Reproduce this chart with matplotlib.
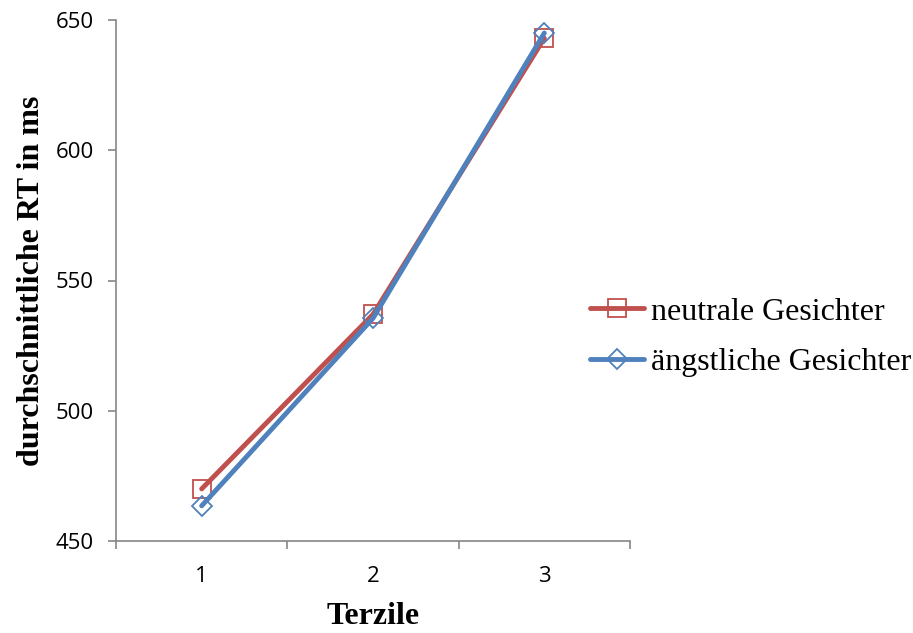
import matplotlib
matplotlib.use("Agg")
import matplotlib.pyplot as plt

# Daten
terzile = [1, 2, 3]
neutral = [470, 537, 643]
aengstlich = [463.5, 535.5, 645]

red = '#C0504D'
blue = '#4F81BD'
grey = '#868686'

fig = plt.figure(figsize=(9.13, 6.33), dpi=100)
ax = fig.add_axes([116/913, 1-541/633, (630-116)/913, (541-20)/633])

ax.plot(terzile, neutral, color=red, lw=3.5, marker='s', ms=13,
        mfc='none', mec=red, mew=1.3, label='neutrale Gesichter',
        solid_capstyle='round')
ax.plot(terzile, aengstlich, color=blue, lw=3.5, marker='D', ms=10.5,
        mfc='none', mec=blue, mew=1.3, label='ängstliche Gesichter',
        solid_capstyle='round')

ax.set_xlim(0.5, 3.5)
ax.set_ylim(450, 650)
ax.set_yticks([450, 500, 550, 600, 650])
ax.set_xticks([0.5, 1.5, 2.5, 3.5])
ax.set_xticklabels([])
ax.set_xticks(terzile, minor=True)
ax.set_xticklabels([str(t) for t in terzile], minor=True)

for s in ['top', 'right']:
    ax.spines[s].set_visible(False)
for s in ['left', 'bottom']:
    ax.spines[s].set_color(grey)
    ax.spines[s].set_linewidth(1.2)

tick_font = 'Open Sans'
ax.tick_params(axis='both', which='major', direction='out', length=6,
               color=grey, width=1.2, labelsize=16)
ax.tick_params(axis='x', which='minor', length=0, pad=18, labelsize=16)
for lab in ax.get_yticklabels() + ax.get_xticklabels(minor=True):
    lab.set_family(tick_font)
ax.tick_params(axis='y', pad=10)

ax.set_xlabel('Terzile', family='Liberation Serif', fontweight='bold',
              fontsize=23, labelpad=11)
ax.set_ylabel('durchschnittliche RT in ms', family='Liberation Serif',
              fontweight='bold', fontsize=23, labelpad=7)

fig.legend(loc='center left', bbox_to_anchor=(590/913, 1-337/633),
           frameon=False, prop={'family': 'Liberation Serif', 'size': 23},
           handlelength=1.7, handletextpad=0.2, labelspacing=0.65,
           borderaxespad=0, borderpad=0)

fig.savefig('out.png', dpi=100)
